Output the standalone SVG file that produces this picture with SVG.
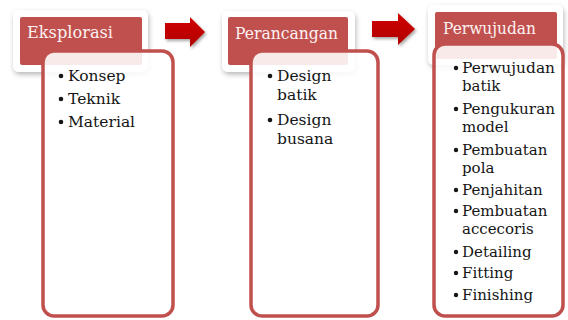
<svg xmlns="http://www.w3.org/2000/svg" width="568" height="320" viewBox="0 0 568 320">
  <defs>
    <filter id="cardShadow" x="-20%" y="-20%" width="140%" height="150%">
      <feDropShadow dx="1" dy="2.5" stdDeviation="2.5" flood-color="#000" flood-opacity="0.28"/>
    </filter>
    <filter id="arrowShadow" x="-20%" y="-20%" width="150%" height="160%">
      <feDropShadow dx="1.5" dy="2" stdDeviation="1.5" flood-color="#000" flood-opacity="0.35"/>
    </filter>
    <linearGradient id="arrowFill" x1="0" y1="0" x2="0" y2="1">
      <stop offset="0" stop-color="#D00000"/>
      <stop offset="1" stop-color="#B00000"/>
    </linearGradient>
  </defs>
  <style>
    .card { fill: #ffffff; filter: url(#cardShadow); }
    .head { fill: #C0504D; }
    .body { fill: #ffffff; fill-opacity: 0.88; stroke: #C0504D; stroke-width: 3.5; }
    .title { font-family: "DejaVu Serif", "Liberation Serif", serif; font-size: 17px; fill: #fdf2f2; }
    .item { font-family: "DejaVu Serif", "Liberation Serif", serif; font-size: 15.5px; fill: #151515; }
    .item3 { font-family: "DejaVu Serif", "Liberation Serif", serif; font-size: 15px; fill: #151515; }
    .dot { fill: #151515; }
    .arrow { fill: url(#arrowFill); filter: url(#arrowShadow); }
  </style>

  <rect width="568" height="320" fill="#ffffff"/>

  <!-- Connectors -->
  <g id="connectors">
    <polygon class="arrow" points="165,23 190,23 190,17 205,32 190,47 190,39 165,39"/>
    <polygon class="arrow" points="372,21 398,21 398,13 415,29 398,45 398,37 372,37"/>
  </g>

  <!-- Eksplorasi -->
  <g id="node-eksplorasi">
    <rect class="card" x="13" y="10" width="135" height="62" rx="6"/>
    <rect class="head" x="20" y="17" width="122" height="48" rx="2"/>
    <text class="title" x="27" y="38" textLength="86" lengthAdjust="spacingAndGlyphs">Eksplorasi</text>
    <rect class="body" x="43" y="51" width="130" height="265" rx="11"/>
    <circle class="dot" cx="61" cy="76" r="2.3"/>
    <text class="item" x="68" y="81">Konsep</text>
    <circle class="dot" cx="61" cy="99" r="2.3"/>
    <text class="item" x="68" y="104">Teknik</text>
    <circle class="dot" cx="61" cy="122" r="2.3"/>
    <text class="item" x="68" y="127">Material</text>
  </g>

  <!-- Perancangan -->
  <g id="node-perancangan">
    <rect class="card" x="222" y="11" width="133" height="61" rx="6"/>
    <rect class="head" x="228" y="17" width="120" height="48" rx="2"/>
    <text class="title" x="235" y="39" textLength="103" lengthAdjust="spacingAndGlyphs">Perancangan</text>
    <rect class="body" x="251" y="51" width="127" height="265" rx="11"/>
    <circle class="dot" cx="270" cy="76" r="2.3"/>
    <text class="item" x="277" y="81">Design</text>
    <text class="item" x="277" y="100">batik</text>
    <circle class="dot" cx="270" cy="120" r="2.3"/>
    <text class="item" x="277" y="125">Design</text>
    <text class="item" x="277" y="144">busana</text>
  </g>

  <!-- Perwujudan -->
  <g id="node-perwujudan">
    <rect class="card" x="428" y="5" width="135" height="60" rx="6"/>
    <rect class="head" x="435" y="12" width="122" height="47" rx="2"/>
    <text class="title" x="443" y="34" textLength="93" lengthAdjust="spacingAndGlyphs">Perwujudan</text>
    <rect class="body" x="434" y="44" width="129" height="272" rx="11"/>
    <circle class="dot" cx="456" cy="68" r="2.2"/>
    <text class="item3" x="462" y="73" textLength="93" lengthAdjust="spacingAndGlyphs">Perwujudan</text>
    <text class="item3" x="462" y="91">batik</text>
    <circle class="dot" cx="456" cy="109" r="2.2"/>
    <text class="item3" x="462" y="114" textLength="93" lengthAdjust="spacingAndGlyphs">Pengukuran</text>
    <text class="item3" x="462" y="132">model</text>
    <circle class="dot" cx="456" cy="150" r="2.2"/>
    <text class="item3" x="462" y="155">Pembuatan</text>
    <text class="item3" x="462" y="173">pola</text>
    <circle class="dot" cx="456" cy="190" r="2.2"/>
    <text class="item3" x="462" y="195">Penjahitan</text>
    <circle class="dot" cx="456" cy="211" r="2.2"/>
    <text class="item3" x="462" y="216">Pembuatan</text>
    <text class="item3" x="462" y="234">accecoris</text>
    <circle class="dot" cx="456" cy="252" r="2.2"/>
    <text class="item3" x="462" y="257">Detailing</text>
    <circle class="dot" cx="456" cy="273" r="2.2"/>
    <text class="item3" x="462" y="278">Fitting</text>
    <circle class="dot" cx="456" cy="295" r="2.2"/>
    <text class="item3" x="462" y="300">Finishing</text>
  </g>
</svg>
